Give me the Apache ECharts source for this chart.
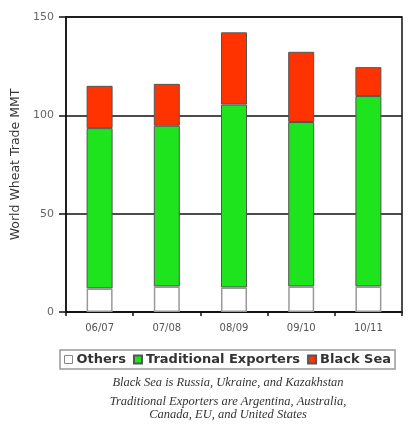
<!DOCTYPE html>
<html><head><meta charset="utf-8">
<script src="https://cdn.jsdelivr.net/npm/echarts@6/dist/echarts.min.js"></script>
<style>html,body{margin:0;padding:0;background:#fff}#c{width:408px;height:432px}</style>
</head><body><div id="c"></div>
<script>
const categories = ['06/07', '07/08', '08/09', '09/10', '10/11'];
const others = [12, 13, 12.5, 13, 13];
const traditional = [81.5, 81.7, 93, 83.6, 96.8];
const blackSea = [21.5, 21.3, 36.7, 35.7, 14.7];
const yTicks = [0, 50, 100, 150];
const notes = ['Black Sea is Russia, Ukraine, and Kazakhstan', 'Traditional Exporters are Argentina, Australia,', 'Canada, EU, and United States'];

const chart = echarts.init(document.getElementById('c'));
const barW = 26;
const sans = '"DejaVu Sans", Arial, sans-serif';
chart.setOption({
  animation: false,
  backgroundColor: '#fff',
  grid: { left: 66, right: 6, top: 17, bottom: 120, show: true, borderColor: '#111', borderWidth: 1.5 },
  legend: {
    left: 60, top: 350, width: 346,
    padding: [3, 4, 3, 4],
    borderColor: '#999', borderWidth: 1.5,
    itemWidth: 8, itemHeight: 8, itemGap: 7,
    textStyle: { fontFamily: sans, fontSize: 13, fontWeight: 'bold', color: '#333', padding: [0, 0, 0, -1] },
    data: [
      { name: 'Others', icon: 'rect', itemStyle: { color: '#fff', borderColor: '#888', borderWidth: 1 } },
      { name: 'Traditional Exporters', icon: 'rect' },
      { name: 'Black Sea', icon: 'rect' }
    ]
  },
  xAxis: {
    type: 'category', data: categories,
    axisLine: { lineStyle: { color: '#111', width: 1.5 } },
    axisTick: { show: true, alignWithLabel: false, length: 4, lineStyle: { color: '#111', width: 1.5 } },
    axisLabel: { fontFamily: sans, fontSize: 10, color: '#555', margin: 11 }
  },
  yAxis: {
    type: 'value', min: yTicks[0], max: yTicks[yTicks.length - 1], interval: 50,
    name: 'World Wheat Trade MMT', nameLocation: 'middle', nameGap: 42,
    nameTextStyle: { fontFamily: sans, fontSize: 12.5, color: '#333' },
    axisLine: { show: true, lineStyle: { color: '#111', width: 1.5 } },
    axisTick: { show: true, length: 7, lineStyle: { color: '#111', width: 1.5 } },
    axisLabel: { fontFamily: sans, fontSize: 11, color: '#666', margin: 12 },
    splitLine: { show: true, lineStyle: { color: '#111', width: 1.5 } }
  },
  series: [
    { name: 'Others', type: 'bar', stack: 't', barWidth: barW, data: others,
      itemStyle: { color: '#fff', borderColor: '#999', borderWidth: 1.5 } },
    { name: 'Traditional Exporters', type: 'bar', stack: 't', barWidth: barW, data: traditional,
      itemStyle: { color: '#1de41d', borderColor: '#555', borderWidth: 1 } },
    { name: 'Black Sea', type: 'bar', stack: 't', barWidth: barW, data: blackSea,
      itemStyle: { color: '#ff3300', borderColor: '#555', borderWidth: 1 } }
  ],
  graphic: notes.map((t, i) => ({
    type: 'text', x: 228, y: [383, 402, 415][i],
    style: { text: t, font: 'italic 12.5px "Liberation Serif", serif', fill: '#333', textAlign: 'center', textVerticalAlign: 'middle' }
  }))
});
</script></body></html>
